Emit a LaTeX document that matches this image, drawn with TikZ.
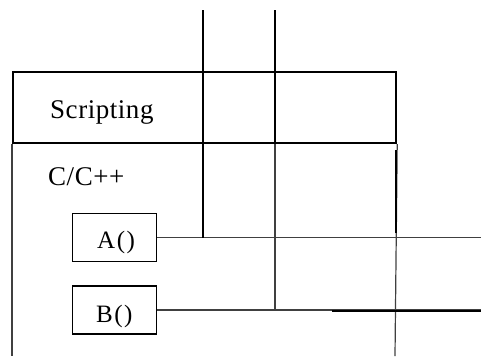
\documentclass[tikz,border=0pt]{standalone}
\usepackage{fontspec}
\setmainfont{Liberation Serif}
\newfontfamily\spacedserif[LetterSpace=2]{Liberation Serif}
\newfontfamily\widserif[LetterSpace=6]{Liberation Serif}
\begin{document}
\begin{tikzpicture}[x=1pt,y=-1pt,
  heavy/.style={line width=2.6pt, draw=black},
  light/.style={line width=1.2pt, draw=black!75},
  funcbox/.style={draw=black, line width=1.8pt, minimum width=84pt, minimum height=48pt,
    inner sep=0pt},
  label/.style={inner sep=0pt, font=\fontsize{27}{30}\spacedserif},
  boxlabel/.style={inner sep=0pt, anchor=base west, font=\fontsize{25}{30}\widserif}]
\useasboundingbox (0,0) rectangle (481,356);

% upper layer band
\node[draw=black, line width=2.2pt, minimum width=383pt, minimum height=71pt,
  inner sep=0pt, anchor=north west] (scr) at (12,71) {};
\node[label, anchor=base west] (scrtxt) at (50,118) {Scripting};
\node[label, anchor=base west] (ctxt) at (48,185) {C/C++};

% function boxes
\node[funcbox] (A) at (114.5,237.5) {};
\node[boxlabel] (Atxt) at (97,248) {A()};
\node[funcbox] (B) at (114.5,310) {};
\node[boxlabel] (Btxt) at (96,322) {B()};

% free ends
\coordinate (t1) at (203,10);
\coordinate (t2) at (275,10);
\coordinate (bl) at (12,356);
\coordinate (br) at (395,356);
\coordinate (aend) at (481,237.5);
\coordinate (bend) at (481,310);
\coordinate (bmid) at (332,311);
\coordinate (rtop) at (396,150);
\coordinate (rbot) at (396,233);

% lower layer sides
\draw[light, line width=1.5pt] (scr.south west) -- (bl);
\draw[light] (scr.south east) -- (br);
\draw[heavy] (rtop) -- (rbot);

% calls leaving the boxes
\draw[light] (A.east) -- (aend);
\draw[light] (B.east) -- (bend);
\draw[heavy, line width=1.8pt] (bmid) -- (bend |- bmid);

% threads coming down from above
\draw[heavy] (t1) -- (t1 |- A.east);
\draw[heavy] (t2) -- (t2 |- scr.south);
\draw[light] (t2 |- scr.south) -- (t2 |- B.east);
\end{tikzpicture}
\end{document}
